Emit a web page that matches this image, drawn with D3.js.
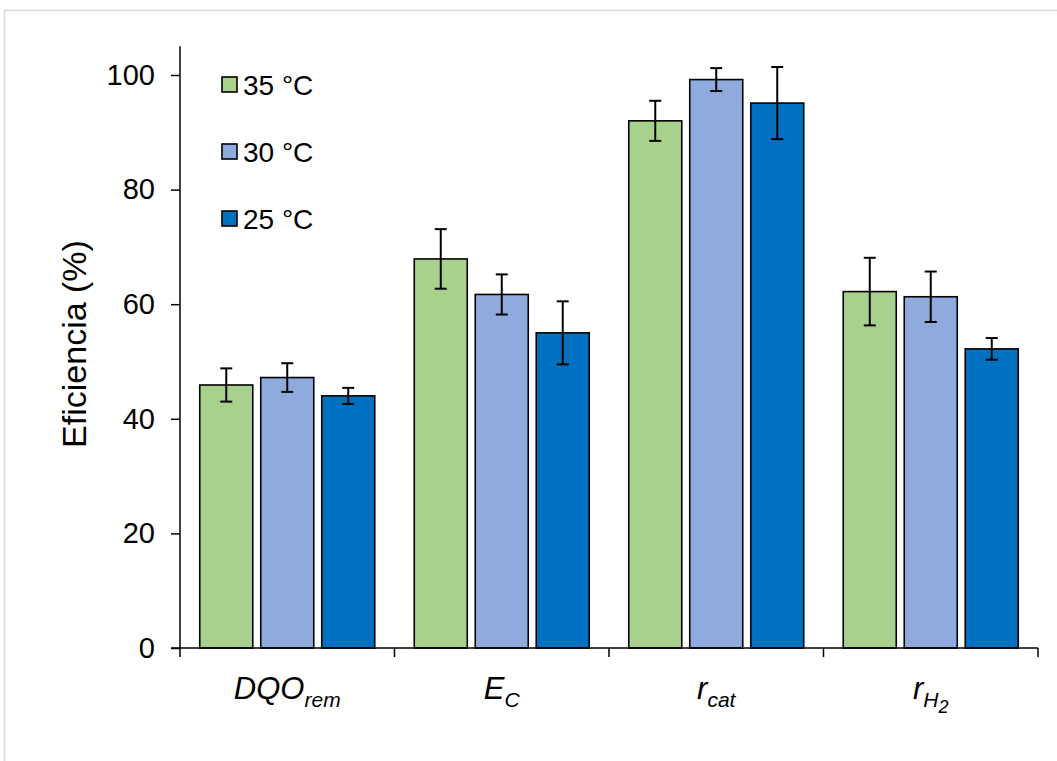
<!DOCTYPE html>
<html>
<head>
<meta charset="utf-8">
<script src="https://cdn.jsdelivr.net/npm/d3@7"></script>
<style>
  body { margin: 0; background: #fff; }
  svg { font-family: "Liberation Sans", Arial, sans-serif; }
</style>
</head>
<body>
<svg width="1057" height="761"></svg>
<script>
// data
var categories = ['DQO', 'E', 'r', 'rH2'];
var series = ['35 °C', '30 °C', '25 °C'];
var colors = ['#A9D18E', '#8FAADC', '#0070C0'];
var values35 = [45.9, 67.9, 92.0, 62.2];
var values30 = [47.2, 61.7, 99.2, 61.3];
var values25 = [44.0, 55.0, 95.1, 52.2];
var err35 = [2.9, 5.2, 3.5, 5.9];
var err30 = [2.5, 3.5, 2.0, 4.4];
var err25 = [1.4, 5.5, 6.3, 1.9];
var yTicks = [0, 20, 40, 60, 80, 100];
// label pieces: level 0 = normal, 1 = subscript, 2 = sub-subscript
var xLabels = [
  [['DQO', 0], ['rem', 1]],
  [['E', 0], ['C', 1]],
  [['r', 0], ['cat', 1]],
  [['r', 0], ['H', 1], ['2', 2]]
];

var vals = [values35, values30, values25];
var errs = [err35, err30, err25];

var svg = d3.select('svg'),
	width = +svg.attr('width'),
	height = +svg.attr('height');

// light frame round the chart area
svg.append('rect')
	.attr('x', 4.5).attr('y', 10.5)
	.attr('width', 1100).attr('height', 800)
	.attr('fill', 'none')
	.attr('stroke', '#d9d9d9')
	.attr('stroke-width', 1.5);

var left = 180, right = 1038, bottom = 648;

var x = d3.scaleBand()
	.domain(categories)
	.range([left, right])
	.padding(0);

var xs = d3.scaleBand()
	.domain(series)
	.range([0, x.bandwidth()])
	.paddingInner(0.131)
	.paddingOuter(0.324);

var y = d3.scaleLinear()
	.domain([0, 105])
	.range([bottom, bottom - 105 * 5.73]);

// bars
var groups = svg.selectAll('g.cat')
	.data(categories)
	.enter().append('g')
	.attr('class', 'cat')
	.attr('transform', function(d) { return 'translate(' + x(d) + ',0)'; });

groups.each(function(c, ci) {
	var g = d3.select(this);
	series.forEach(function(s, si) {
		var v = vals[si][ci], e = errs[si][ci];
		var bx = xs(s), bw = xs.bandwidth();
		g.append('rect')
			.attr('x', bx).attr('y', y(v))
			.attr('width', bw).attr('height', y(0) - y(v))
			.attr('fill', colors[si])
			.attr('stroke', '#000')
			.attr('stroke-width', 1.6);
		var cx = bx + bw / 2;
		var eb = g.append('g').attr('stroke', '#000').attr('stroke-width', 2);
		eb.append('line').attr('x1', cx).attr('x2', cx).attr('y1', y(v + e)).attr('y2', y(v - e));
		eb.append('line').attr('x1', cx - 6).attr('x2', cx + 6).attr('y1', y(v + e)).attr('y2', y(v + e));
		eb.append('line').attr('x1', cx - 6).attr('x2', cx + 6).attr('y1', y(v - e)).attr('y2', y(v - e));
	});
});

// y axis
var yAxis = svg.append('g')
	.attr('transform', 'translate(' + left + ',0)')
	.call(d3.axisLeft(y).tickValues(yTicks).tickSize(9).tickPadding(16));
yAxis.select('.domain').attr('d', 'M0,' + y(105) + 'V' + (bottom + 9)).attr('stroke-width', 1.5);
yAxis.selectAll('.tick line').attr('stroke-width', 1.5);
yAxis.selectAll('.tick text')
	.attr('font-size', 29)
	.attr('font-family', '"Liberation Sans", Arial, sans-serif')
	.attr('fill', '#000');

// x axis line and separators
var xAxis = svg.append('g');
xAxis.append('line')
	.attr('x1', left - 9).attr('x2', right)
	.attr('y1', bottom).attr('y2', bottom)
	.attr('stroke', '#000').attr('stroke-width', 1.5);
xAxis.selectAll('line.sep')
	.data(categories.slice(1).concat(['end']))
	.enter().append('line')
	.attr('class', 'sep')
	.attr('x1', function(d) { return d === 'end' ? right : x(d); })
	.attr('x2', function(d) { return d === 'end' ? right : x(d); })
	.attr('y1', bottom).attr('y2', bottom + 9)
	.attr('stroke', '#000').attr('stroke-width', 1.5);

// category labels with subscripts
var sizes = [31, 21, 18];
var shifts = [0, 8, 6];
categories.forEach(function(c, ci) {
	var t = svg.append('text')
		.attr('x', x(c) + x.bandwidth() / 2)
		.attr('y', 699)
		.attr('text-anchor', 'middle')
		.attr('font-style', 'italic')
		.attr('fill', '#000');
	xLabels[ci].forEach(function(p) {
		t.append('tspan')
			.attr('font-size', sizes[p[1]])
			.attr('dy', shifts[p[1]])
			.text(p[0]);
	});
});

// y title
svg.append('text')
	.attr('transform', 'translate(86,344) rotate(-90)')
	.attr('text-anchor', 'middle')
	.attr('font-size', 34)
	.attr('fill', '#000')
	.text('Eficiencia (%)');

// legend
var legend = svg.selectAll('g.leg')
	.data(series)
	.enter().append('g')
	.attr('class', 'leg')
	.attr('transform', function(d, i) { return 'translate(222,' + (84.5 + i * 67) + ')'; });
legend.append('rect')
	.attr('x', 0).attr('y', -7.5)
	.attr('width', 15).attr('height', 15)
	.attr('fill', function(d, i) { return colors[i]; })
	.attr('stroke', '#000').attr('stroke-width', 1.6);
legend.append('text')
	.attr('x', 21).attr('y', 10)
	.attr('font-size', 28)
	.attr('fill', '#000')
	.text(function(d) { return d; });
</script>
</body>
</html>
